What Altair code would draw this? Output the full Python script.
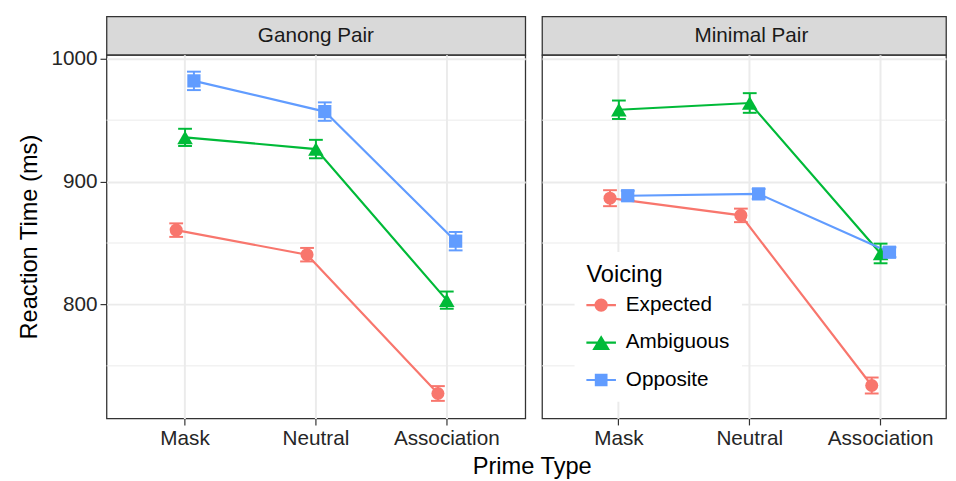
import altair as alt
import pandas as pd

pairs = ["Ganong Pair", "Minimal Pair"]
prime_types = ["Mask", "Neutral", "Association"]
voicings = ["Expected", "Ambiguous", "Opposite"]
voicing_colors = ["#F8766D", "#00BA38", "#619CFF"]
voicing_shapes = ["circle", "triangle-up", "square"]
voicing_sizes = [175, 250, 180]

# mean reaction times (ms), order: Mask, Neutral, Association
ganong_expected = [860.5, 840.5, 727.5]
ganong_ambiguous = [936.0, 926.5, 803.5]
ganong_opposite = [982.0, 957.0, 851.5]
minimal_expected = [886.5, 872.5, 734.0]
minimal_ambiguous = [958.5, 964.0, 841.5]
minimal_opposite = [888.5, 890.0, 842.5]

# error bar half-widths (ms)
ganong_expected_err = [5.5, 5.5, 6.0]
ganong_ambiguous_err = [7.0, 7.5, 7.0]
ganong_opposite_err = [7.5, 7.5, 7.5]
minimal_expected_err = [6.5, 5.5, 6.5]
minimal_ambiguous_err = [7.5, 8.0, 8.0]
minimal_opposite_err = [4.0, 4.0, 4.0]

y_ticks = [800, 900, 1000]
y_minor = [750, 850, 950]

means = {
    "Ganong Pair": [ganong_expected, ganong_ambiguous, ganong_opposite],
    "Minimal Pair": [minimal_expected, minimal_ambiguous, minimal_opposite],
}
errs = {
    "Ganong Pair": [ganong_expected_err, ganong_ambiguous_err, ganong_opposite_err],
    "Minimal Pair": [minimal_expected_err, minimal_ambiguous_err, minimal_opposite_err],
}

rows = []
for pair in pairs:
    for vi, v in enumerate(voicings):
        for pi, p in enumerate(prime_types):
            m = means[pair][vi][pi]
            e = errs[pair][vi][pi]
            rows.append({"Pair": pair, "Voicing": v, "Prime": p, "RT": m,
                         "lo": m - e, "hi": m + e})
df = pd.DataFrame(rows)
minor_df = pd.DataFrame({"v": y_minor})

FONT = "Liberation Sans"
TEXT_COLOR = "#262626"
PANEL_W = 425
RIGHT_W = 410
PANEL_H = 369
STRIP_H = 39
BAND = PANEL_W / 3.2          # band step of the category scale
DODGE = 27                    # dodge span (px) for the three series

# colour scale: data-driven domain (sorted by the voicing list)
color_scale = alt.Scale(range=voicing_colors)
y_scale = alt.Scale(domain=[707.2, 1003.2], nice=False, zero=False)

legend_paths = [
    "M-1,-0.075L1,-0.075L1,0.075L-1,0.075Z"
    "M0.45,0A0.45,0.45,0,1,1,-0.45,0A0.45,0.45,0,1,1,0.45,0Z",
    "M-1,-0.075L1,-0.075L1,0.075L-1,0.075Z"
    "M0,-0.5L0.6,0.5L-0.6,0.5Z",
    "M-1,-0.075L1,-0.075L1,0.075L-1,0.075Z"
    "M-0.43,-0.43L0.43,-0.43L0.43,0.43L-0.43,0.43Z",
]


def panel(pair, width, first):
    data = df[df["Pair"] == pair]
    if first:
        x_scale = alt.Scale(domain=prime_types, paddingInner=0, paddingOuter=0.1)
    else:
        # same step as the left panel; the panel is cut at the right edge
        po = (width / BAND - 3) / 2
        x_scale = alt.Scale(domain=prime_types, paddingInner=0, paddingOuter=po, align=1)
    x_enc = alt.X("Prime:N", sort=prime_types, scale=x_scale,
                  axis=alt.Axis(title=None, labelAngle=0, grid=True, ticks=True))
    xo = alt.XOffset("Voicing:N", sort=voicings,
                     scale=alt.Scale(domain=voicings, paddingInner=0, paddingOuter=0,
                                     range=[BAND / 2 - DODGE / 2, BAND / 2 + DODGE / 2]))
    if first:
        y_axis = alt.Axis(values=y_ticks, title="Reaction Time (ms)", grid=True, format="d")
    else:
        y_axis = alt.Axis(values=y_ticks, title=None, labels=False, ticks=False, grid=True)
    col = alt.Color("Voicing:N", sort=voicings, scale=color_scale, legend=None)

    base = alt.Chart(data)
    minor = alt.Chart(minor_df).mark_rule(color="#EBEBEB", strokeWidth=1).encode(
        y=alt.Y("v:Q", scale=y_scale, axis=y_axis)
    )
    bars = base.mark_rule(strokeWidth=2).encode(
        x=x_enc, xOffset=xo,
        y=alt.Y("lo:Q", scale=y_scale, axis=y_axis), y2="hi:Q", color=col)
    cap_lo = base.mark_tick(size=14, thickness=2, orient="horizontal", opacity=1).encode(
        x=x_enc, xOffset=xo, y=alt.Y("lo:Q", scale=y_scale, axis=y_axis), color=col)
    cap_hi = base.mark_tick(size=14, thickness=2, orient="horizontal", opacity=1).encode(
        x=x_enc, xOffset=xo, y=alt.Y("hi:Q", scale=y_scale, axis=y_axis), color=col)
    lines = base.mark_line(strokeWidth=2.2).encode(
        x=x_enc, xOffset=xo, y=alt.Y("RT:Q", scale=y_scale, axis=y_axis), color=col)
    layers = [minor, bars, cap_lo, cap_hi, lines]
    for v, shp, sz in zip(voicings, voicing_shapes, voicing_sizes):
        layers.append(
            base.transform_filter(alt.datum.Voicing == v)
            .mark_point(shape=shp, filled=True, size=sz, opacity=1, strokeWidth=0)
            .encode(x=x_enc, xOffset=xo,
                    y=alt.Y("RT:Q", scale=y_scale, axis=y_axis), color=col)
        )
    if not first:
        leg = alt.Legend(title="Voicing", orient="none", legendX=475, legendY=239,
                         titleFontSize=24, titleFontWeight="normal", titleColor="black",
                         titleFont=FONT, labelFont=FONT, labelFontSize=21,
                         labelColor="black", symbolSize=900, symbolStrokeWidth=0,
                         rowPadding=13, labelOffset=10, titlePadding=3, padding=12,
                         fillColor="white")
        layers.append(
            base.transform_filter("false")
            .mark_point(filled=True, opacity=1, strokeWidth=0)
            .encode(fill=alt.Fill("Voicing:N", scale=alt.Scale(domain=voicings,
                                                                range=voicing_colors),
                                  legend=leg),
                    shape=alt.Shape("Voicing:N",
                                    scale=alt.Scale(domain=voicings, range=legend_paths),
                                    legend=leg))
        )
    plot = alt.layer(*layers).properties(width=width, height=PANEL_H)

    # strip label centred on the full (uncut) panel width
    strip = alt.Chart(pd.DataFrame({"Pair": [pair]})).mark_text(
        font=FONT, fontSize=21, color="#1A1A1A", dx=(PANEL_W - width) / 2
    ).encode(
        x=alt.X("Pair:N", axis=None),
        text="Pair:N",
    ).properties(width=width, height=STRIP_H,
                 view=alt.ViewBackground(fill="#D9D9D9", stroke="#333333", strokeWidth=1.3))
    return alt.vconcat(strip, plot, spacing=0, bounds="flush")


chart = alt.hconcat(
    panel("Ganong Pair", PANEL_W, True),
    panel("Minimal Pair", RIGHT_W, False),
    spacing=13,
).properties(
    padding={"left": 9, "top": 4, "right": 0, "bottom": 0},
    title=alt.TitleParams("Prime Type", orient="bottom", anchor="start", align="center",
                          dx=523, offset=6, fontSize=24, fontWeight="normal",
                          font=FONT, color="black"),
).configure_view(
    stroke="#333333", strokeWidth=1.3
).configure_axis(
    labelFont=FONT, labelFontSize=21, labelColor=TEXT_COLOR,
    titleFont=FONT, titleFontSize=24, titleFontWeight="normal", titleColor="black",
    tickColor="#333333", tickSize=6.6, tickWidth=1.2,
    domain=False, gridColor="#EBEBEB", gridWidth=2,
    labelPadding=3, titlePadding=10,
)

chart.save("out.html", embed_options={"renderer": "svg", "actions": False})
